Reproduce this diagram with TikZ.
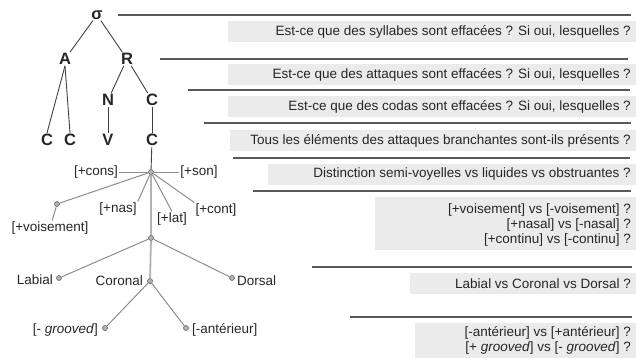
\documentclass[tikz,border=0pt]{standalone}
\usepackage{fontspec}
\setmainfont{Liberation Sans}
\begin{document}
\begin{tikzpicture}[x=1pt,y=-1pt,
  big/.style={font=\fontsize{16.5}{18}\selectfont\bfseries, text=black!85, inner sep=1pt},
  lbl/.style={font=\fontsize{13.5}{15}\selectfont, text=black!85, inner sep=1pt},
  qtext/.style={font=\fontsize{13.5}{15}\selectfont, text=black!85, inner sep=0pt, align=right, anchor=east},
  tline/.style={draw=black!75, line width=0.9pt},
  fline/.style={draw=black!45, line width=1pt},
  vline/.style={draw=black!30, line width=1.8pt},
  dot/.style={circle, draw=black!60, fill=black!30, line width=0.6pt, minimum size=5pt, inner sep=0pt},
  rule/.style={draw=black!65, line width=1.3pt},
  qbox/.style={fill=black!8}
]
\useasboundingbox (0,0) rectangle (636,358);
% ---------- right side rules and boxes ----------
\coordinate (l1a) at (118,15);  \coordinate (l1b) at (631,15);
\coordinate (l2a) at (160,59);  \coordinate (l2b) at (628,59);
\coordinate (l3a) at (188,90);  \coordinate (l3b) at (630,90);
\coordinate (l4a) at (204,123); \coordinate (l4b) at (631,123);
\coordinate (l5a) at (233,158); \coordinate (l5b) at (630,158);
\coordinate (l6a) at (253,191); \coordinate (l6b) at (631,191);
\coordinate (l7a) at (312,267); \coordinate (l7b) at (632,267);
\coordinate (l8a) at (350,317); \coordinate (l8b) at (632,317);
\foreach \i in {1,...,8} \draw[rule] (l\i a) -- (l\i b);

\fill[qbox] (228,21) rectangle (636,42);
\node[qtext] (q1) at (631,31.5) {Est-ce que des syllabes sont effacées ? Si oui, lesquelles ?};
\fill[qbox] (228,64) rectangle (636,85);
\node[qtext] (q2) at (631,74.5) {Est-ce que des attaques sont effacées ? Si oui, lesquelles ?};
\fill[qbox] (228,96) rectangle (636,117);
\node[qtext] (q3) at (631,106.5) {Est-ce que des codas sont effacées ? Si oui, lesquelles ?};
\fill[qbox] (230,130) rectangle (636,151);
\node[qtext] (q4) at (631,140.5) {Tous les éléments des attaques branchantes sont-ils présents ?};
\fill[qbox] (268,164) rectangle (636,185);
\node[qtext] (q5) at (631,174.5) {Distinction semi-voyelles vs liquides vs obstruantes ?};
\fill[qbox] (375,197) rectangle (636,250);
\node[qtext] (q6) at (631,225) {[+voisement] vs [-voisement] ?\\{}[+nasal] vs [-nasal] ?\\{}[+continu] vs [-continu] ?};
\fill[qbox] (410,273) rectangle (636,294);
\node[qtext] (q7) at (631,283.5) {Labial vs Coronal vs Dorsal ?};
\fill[qbox] (415,323) rectangle (636,358);
\node[qtext] (q8) at (631,340) {[-antérieur] vs [+antérieur] ?\\{}[+ \textit{grooved}] vs [- \textit{grooved}] ?};

% ---------- syllable tree ----------
\node[big] (sig) at (97,15) {σ};
\node[big] (A) at (65,59) {A};
\node[big] (R) at (127,59) {R};
\node[big] (N) at (108,100) {N};
\node[big] (C1) at (152,100) {C};
\node[big] (Ca) at (47,140) {C};
\node[big] (Cb) at (70,140) {C};
\node[big] (V) at (108,140) {V};
\node[big] (C2) at (152,140) {C};
\draw[tline] (sig) -- (A);
\draw[tline] (sig) -- (R);
\draw[tline] (A.south) -- (Ca.north);
\draw[tline] (A.south) -- (Cb.north);
\draw[tline] (R) -- (N);
\draw[tline] (R) -- (C1);
\draw[tline] (N) -- (V);
\draw[tline] (C1) -- (C2);

% ---------- feature geometry ----------
\node[dot] (c0) at (151,172) {};
\draw[tline] (C2) -- (c0);
\node[lbl] (cons) at (96,172) {[+cons]};
\node[lbl] (son) at (199,172) {[+son]};
\draw[fline] (cons) -- (c0);
\draw[fline] (c0) -- (son);
\node[dot] (cv) at (57,204) {};
\node[lbl] (vois) at (50,228) {[+voisement]};
\draw[fline] (c0) -- (cv);
\draw[fline] (cv) -- (vois);
\node[lbl] (nas) at (118,209) {[+nas]};
\draw[fline] (c0) -- (nas.north east);
\node[lbl] (lat) at (172,219) {[+lat]};
\draw[fline] (c0) -- (lat.north);
\node[lbl] (cont) at (216,210) {[+cont]};
\draw[fline] (c0) -- (cont.north west);
\node[dot] (c1) at (151,238) {};
\draw[vline] (c0) -- (c1);
\node[dot] (lab) at (59,278) {};
\node[lbl, anchor=east] (labt) at (54,280) {Labial};
\node[dot] (cor) at (150,281) {};
\node[lbl, anchor=east] (cort) at (144,281) {Coronal};
\node[dot] (dor) at (232,278) {};
\node[lbl, anchor=west] (dort) at (236,281) {Dorsal};
\draw[fline] (c1) -- (lab);
\draw[vline] (c1) -- (cor);
\draw[fline] (c1) -- (dor);
\node[dot] (gro) at (105,328) {};
\node[lbl, anchor=east] (grot) at (99,330) {[- \textit{grooved}]};
\node[dot] (ant) at (186,328) {};
\node[lbl, anchor=west] (antt) at (191,330) {[-antérieur]};
\draw[fline] (cor) -- (gro);
\draw[fline] (cor) -- (ant);
\end{tikzpicture}
\end{document}
